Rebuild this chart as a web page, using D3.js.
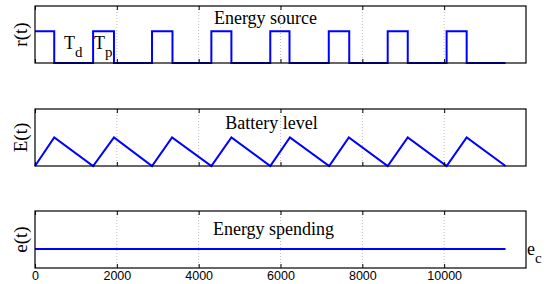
<!DOCTYPE html>
<html>
<head>
<meta charset="utf-8">
<script src="https://cdn.jsdelivr.net/npm/d3@7"></script>
<style>
  body { margin: 0; background: #fff; }
  svg { display: block; }
  .serif { font-family: "Liberation Serif", "DejaVu Serif", "Times New Roman", serif; }
</style>
</head>
<body>
<svg id="chart" width="548" height="284"></svg>
<script>
// data
var tTicks = [0, 2000, 4000, 6000, 8000, 10000];

// energy source r(t): step points (value holds until next time)
var sourceT = [0, 470, 1420, 1930, 2860, 3360, 4310, 4800, 5750, 6220, 7180, 7680, 8620, 9110, 10060, 10550, 11500];
var sourceR = [1, 0, 1, 0, 1, 0, 1, 0, 1, 0, 1, 0, 1, 0, 1, 0, 0];

// battery level E(t)
var batteryT = [0, 470, 1420, 1930, 2860, 3350, 4310, 4800, 5750, 6230, 7190, 7670, 8620, 9110, 10060, 10550, 11500];
var batteryE = [0, 1, 0, 1, 0, 1, 0, 1, 0, 1, 0, 1, 0, 1, 0, 1, 0];

// energy spending e(t)
var spendT = [0, 11500];
var spendE = [1, 1];

var svg = d3.select("#chart");

var left = 35, right = 526, panelH = 57;

var x = d3.scaleLinear().domain([0, 12000]).range([left, right]);

var panels = [
  {top: 6, ymax: 1.8, t: sourceT, v: sourceR, curve: d3.curveStepAfter, ylab: "r(t)", title: "Energy source", tx: 265.5, ty: 23.5},
  {top: 109, ymax: 2, t: batteryT, v: batteryE, curve: d3.curveLinear, ylab: "E(t)", title: "Battery level", tx: 271.5, ty: 129},
  {top: 211, ymax: 3, t: spendT, v: spendE, curve: d3.curveLinear, ylab: "e(t)", title: "Energy spending", tx: 273.5, ty: 235}
];

panels.forEach(function(p, i) {
  var y = d3.scaleLinear().domain([0, p.ymax]).range([p.top + panelH, p.top]);
  var g = svg.append("g");

  // dotted grid
  g.selectAll(".grid")
    .data(tTicks.slice(1))
    .enter().append("line")
    .attr("x1", function(d) { return x(d); })
    .attr("x2", function(d) { return x(d); })
    .attr("y1", p.top)
    .attr("y2", p.top + panelH)
    .style("stroke", "#b0b0b0")
    .style("stroke-width", 0.8)
    .style("stroke-dasharray", "1,2");

  // data line
  var pts = p.t.map(function(d, j) { return [d, p.v[j]]; });
  var line = d3.line()
    .curve(p.curve)
    .x(function(d) { return x(d[0]); })
    .y(function(d) { return y(d[1]); });

  g.append("path")
    .attr("d", line(pts))
    .style("fill", "none")
    .style("stroke", "#0000ff")
    .style("stroke-width", 2);

  // bottom axis ticks (inside)
  var xb = d3.axisBottom(x).tickValues(tTicks).tickSizeInner(-4).tickSizeOuter(0)
    .tickFormat(i == 2 ? d3.format("d") : "");
  var ax = g.append("g")
    .attr("transform", "translate(0," + (p.top + panelH) + ")")
    .call(xb);
  ax.select(".domain").remove();
  ax.selectAll(".tick line").style("stroke", "#000");
  ax.selectAll(".tick text")
    .attr("y", 3)
    .style("font-family", "'Liberation Sans', Arial, sans-serif")
    .style("font-size", "12.5px")
    .style("fill", "#000");

  var xt = d3.axisTop(x).tickValues(tTicks).tickSizeInner(-4).tickSizeOuter(0).tickFormat("");
  var axt = g.append("g")
    .attr("transform", "translate(0," + p.top + ")")
    .call(xt);
  axt.select(".domain").remove();
  axt.selectAll(".tick line").style("stroke", "#000");

  // frame
  g.append("rect")
    .attr("x", left)
    .attr("y", p.top)
    .attr("width", right - left)
    .attr("height", panelH)
    .style("fill", "none")
    .style("stroke", "#000")
    .style("stroke-width", 1.2);

  // y label
  g.append("text")
    .attr("class", "serif")
    .attr("transform", "translate(27," + (p.top + panelH / 2) + ") rotate(-90)")
    .attr("text-anchor", "middle")
    .style("font-size", "19px")
    .text(p.ylab);

  // title
  g.append("text")
    .attr("class", "serif")
    .attr("x", p.tx)
    .attr("y", p.ty)
    .attr("text-anchor", "middle")
    .style("font-size", "18px")
    .text(p.title);
});

// annotations
function subText(xp, yp, main, sub) {
  var t = svg.append("text")
    .attr("class", "serif")
    .attr("x", xp)
    .attr("y", yp)
    .style("font-size", "18px");
  t.append("tspan").text(main);
  t.append("tspan").attr("dy", 8).style("font-size", "15px").text(sub);
}
subText(64, 49, "T", "d");
subText(94, 49, "T", "p");
subText(527, 255, "e", "c");
</script>
</body>
</html>
